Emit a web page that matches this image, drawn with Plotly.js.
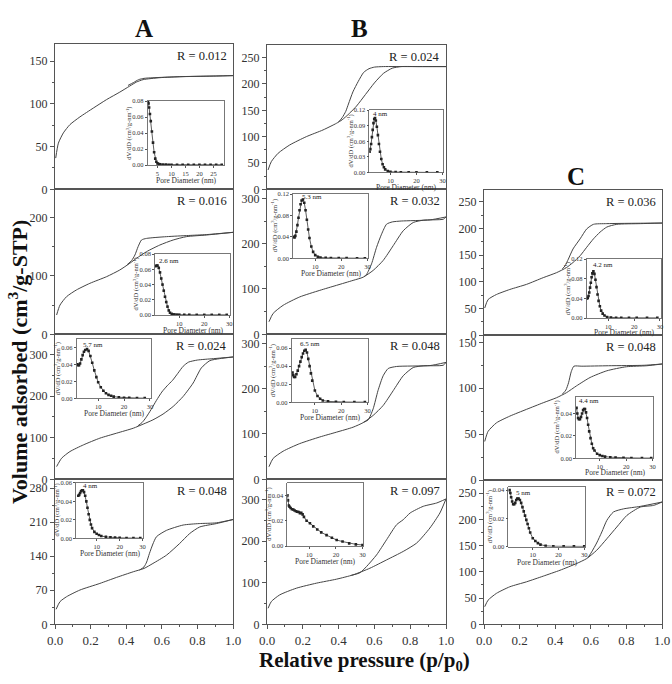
<!DOCTYPE html>
<html><head><meta charset="utf-8">
<script src="https://cdn.plot.ly/plotly-3.0.1.min.js"></script>
<style>html,body{margin:0;padding:0;background:#fff}#chart{width:672px;height:684px}</style>
</head><body><div id="chart"></div>
<script>
// ---------- Isotherm data (relative pressure, volume adsorbed) ----------
const A1_adsX=[0.004,0.019,0.047,0.084,0.14,0.215,0.29,0.364,0.42,0.458,0.495,0.589,0.72,0.907,1.0];
const A1_adsY=[36.5,54,66,75.7,84.7,95,105,113.7,120.8,125.5,128.3,130.6,131.8,132.5,133];
const A1_desX=[1.0,0.85,0.7,0.55,0.5,0.47,0.44,0.41];
const A1_desY=[133,132.4,131.8,130.5,129.8,128.3,124.8,121.5];

const A2_adsX=[0.009,0.028,0.065,0.12,0.196,0.29,0.364,0.42,0.458,0.514,0.589,0.664,0.738,0.85,1.0];
const A2_adsY=[33,50,64.4,75.8,87.2,98.6,110,121.4,130,141.3,152.7,161.3,167,169.8,174.4];
const A2_desX=[1.0,0.85,0.75,0.626,0.514,0.486,0.467,0.449,0.43,0.405];
const A2_desY=[174.4,170.5,169,167,164,161.3,150,135.6,126,119];

const A3_adsX=[0.009,0.037,0.084,0.16,0.252,0.346,0.44,0.495,0.55,0.607,0.664,0.72,0.776,0.822,0.87,0.925,1.0];
const A3_adsY=[30.6,50.7,66.8,82.9,99,111,123,132.7,143,157,175.4,199.5,231.7,268,285.6,290.4,294.4];
const A3_desX=[1.0,0.89,0.8,0.75,0.72,0.69,0.66,0.63,0.6,0.57,0.54,0.51,0.49,0.465];
const A3_desY=[294.4,290.4,287,282,272,255,238,225,210,190,168,148,137,128.5];

const A4_adsX=[0.006,0.028,0.065,0.14,0.252,0.346,0.44,0.5,0.55,0.626,0.7,0.757,0.813,0.907,1.0];
const A4_adsY=[30.8,46.5,56.7,70.4,84,96.4,108,114.8,125,142,166,186.6,200,207,215.3];
const A4_desX=[1.0,0.906,0.81,0.72,0.626,0.57,0.55,0.53,0.515,0.5,0.475];
const A4_desY=[215.3,208.5,207,204,193,180,165,145,128,118,111.5];

const B1_adsX=[0.006,0.024,0.062,0.127,0.22,0.313,0.388,0.42,0.46,0.5,0.55,0.6,0.65,0.7,0.75,0.85,1.0];
const B1_adsY=[36.7,52.5,68.4,84.2,100,112.7,125.3,132,144,158,180,202,220,230,233,233,233];
const B1_desX=[1.0,0.8,0.65,0.6,0.57,0.54,0.51,0.48,0.455,0.44,0.42,0.4];
const B1_desY=[233,233,233,232,229,222,205,185,162,148,136,128];

const B2_adsX=[0.011,0.034,0.09,0.183,0.295,0.388,0.481,0.537,0.593,0.649,0.705,0.761,0.817,0.873,0.985,1.0];
const B2_adsY=[27.7,46,64,82.5,97,108,119,126,141,163,195.6,228.5,246.7,251.8,254,259];
const B2_desX=[1.0,0.91,0.75,0.7,0.668,0.64,0.612,0.584,0.556,0.545];
const B2_desY=[259,252.5,250,248,243,221,192,155.5,132,128.5];

const B3_adsX=[0.011,0.034,0.09,0.183,0.295,0.388,0.481,0.537,0.593,0.649,0.705,0.761,0.817,0.873,0.985,1.0];
const B3_adsY=[27.7,46,62,78.8,93.4,104,115,125,141,163,195.6,228.5,246.7,250.4,251.8,258];
const B3_desX=[1.0,0.91,0.724,0.677,0.649,0.62,0.593,0.565,0.54];
const B3_desY=[258,251,249,244.5,228.5,195.6,155.5,131,126];

const B4_adsX=[0.006,0.024,0.071,0.164,0.276,0.388,0.481,0.575,0.668,0.761,0.836,0.91,0.966,1.0];
const B4_adsY=[38.6,54.7,70.8,86.9,99,108.6,119,135,155,175.4,195.5,231.7,268,301.7];
const B4_desX=[1.0,0.948,0.873,0.8,0.761,0.724,0.668,0.612,0.556,0.519,0.47];
const B4_desY=[301.7,292,284,268,251.8,239.7,203.5,167,139,124,117.7];

const C1_adsX=[0.004,0.023,0.07,0.145,0.239,0.333,0.408,0.464,0.5,0.54,0.577,0.615,0.652,0.69,0.746,0.878,1.0];
const C1_adsY=[50.6,66.5,76,85.4,95,107.6,117,126.6,136,148.7,164.6,180.4,193,202.5,207.6,208.9,210];
const C1_desX=[1.0,0.69,0.615,0.577,0.54,0.5,0.474,0.455,0.44];
const C1_desY=[210,208.9,207.6,199,180.4,161.4,142.4,129.7,124];

const C2_adsX=[0.004,0.023,0.07,0.145,0.239,0.333,0.408,0.464,0.52,0.596,0.69,0.8,0.915,1.0];
const C2_adsY=[42,53,62.3,69.6,77,84.2,89.7,95.2,102.6,111.7,119,123.4,124.5,126.4];
const C2_desX=[1.0,0.9,0.7,0.55,0.505,0.49,0.475,0.46,0.44];
const C2_desY=[126.4,125,124.5,124,124,118,106,98,93.5];

const C3_adsX=[0.004,0.023,0.07,0.145,0.239,0.333,0.427,0.52,0.577,0.633,0.69,0.746,0.803,0.878,0.953,1.0];
const C3_adsY=[33.5,46,59,71.5,81,91.8,103,115.8,125.3,141,163,185.4,207.6,223.4,226.6,233];
const C3_desX=[1.0,0.878,0.784,0.727,0.69,0.662,0.633,0.605,0.585];
const C3_desY=[233,224.7,220,214,198,176,155,138,127.5];

// ---------- Pore size distribution insets (pore diameter nm, dV/dD) ----------
const A1_psdX=[1.6,1.8,2.0,2.3,2.6,3.0,3.4,3.8,4.2,4.6,5.0,5.5,6,7,8,9,10,12,14,16,18,20,22,24,26,28];
const A1_psdY=[0.079,0.077,0.072,0.064,0.055,0.042,0.028,0.016,0.008,0.004,0.002,0.0012,0.0008,0.0006,0.0005,0.0004,0.0004,0.0003,0.0003,0.0003,0.0003,0.0003,0.0003,0.0003,0.0003,0.0003];
const A2_psdX=[0.5,0.9,1.3,1.8,2.3,2.8,3.3,3.8,4.3,4.8,5.3,5.8,6.3,7,8,9,10,12,14,17,20,23,26,29];
const A2_psdY=[0.064,0.065,0.065,0.062,0.056,0.048,0.040,0.032,0.024,0.017,0.011,0.006,0.003,0.0015,0.0008,0.0005,0.0004,0.0003,0.0003,0.0002,0.0002,0.0002,0.0002,0.0002];
const A3_psdX=[2.0,2.3,2.6,3.0,3.5,4.0,4.5,5.0,5.7,6.3,7,7.7,8.5,9.3,10,11,12,13,14,15,16,18,20,22,25,28];
const A3_psdY=[0.040,0.039,0.039,0.041,0.046,0.051,0.055,0.057,0.058,0.056,0.050,0.042,0.033,0.025,0.019,0.013,0.009,0.006,0.004,0.003,0.002,0.0012,0.0007,0.0005,0.0003,0.0002];
const A4_psdX=[2.0,2.4,2.8,3.2,3.6,4.0,4.5,5.0,5.5,6,6.5,7,7.5,8,9,10,11,12,14,16,18,20,23,26,29];
const A4_psdY=[0.046,0.047,0.049,0.051,0.052,0.052,0.050,0.046,0.040,0.033,0.026,0.020,0.015,0.011,0.007,0.005,0.0035,0.0025,0.0015,0.001,0.0007,0.0005,0.0003,0.0002,0.0002];
const B1_psdX=[2.0,2.3,2.6,2.9,3.2,3.5,3.8,4.1,4.4,4.8,5.2,5.6,6.0,6.5,7,7.5,8,9,10,12,14,17,20,24,28];
const B1_psdY=[0.040,0.045,0.055,0.068,0.082,0.095,0.103,0.105,0.100,0.088,0.072,0.055,0.040,0.026,0.016,0.010,0.006,0.003,0.0015,0.0008,0.0005,0.0004,0.0003,0.0002,0.0002];
const B2_psdX=[1.8,2.1,2.4,2.8,3.2,3.6,4.0,4.4,4.8,5.3,5.8,6.3,6.8,7.3,7.8,8.5,9.2,10,11,12,14,16,19,22,26,29];
const B2_psdY=[0.040,0.039,0.042,0.050,0.062,0.076,0.090,0.101,0.108,0.110,0.104,0.090,0.072,0.054,0.038,0.022,0.012,0.006,0.003,0.0015,0.0008,0.0005,0.0004,0.0003,0.0002,0.0002];
const B3_psdX=[1.5,1.8,2.1,2.5,3,3.5,4,4.5,5,5.5,6,6.5,7,7.5,8,8.5,9,10,11,12,13,15,18,21,25,29];
const B3_psdY=[0.033,0.030,0.028,0.028,0.031,0.035,0.040,0.045,0.050,0.054,0.057,0.058,0.055,0.048,0.040,0.032,0.024,0.013,0.007,0.004,0.002,0.001,0.0005,0.0003,0.0002,0.0002];
const B4_psdX=[1.8,2.0,2.3,2.6,3,3.5,4,4.5,5,5.5,6,6.5,7,7.5,8,9,10.25,11.5,13,14.5,16.5,18.5,20.3,22.5,25,27.5,30];
const B4_psdY=[0.040,0.036,0.032,0.031,0.030,0.029,0.0288,0.028,0.0275,0.027,0.0268,0.026,0.0262,0.025,0.023,0.020,0.018,0.0155,0.013,0.0108,0.0086,0.0065,0.0047,0.0035,0.0021,0.0013,0.0008];
const C1_psdX=[1.7,2.0,2.3,2.6,2.9,3.2,3.5,3.8,4.2,4.6,5.0,5.4,5.8,6.2,6.7,7.2,7.8,8.5,9.5,11,13,15,18,21,25,29];
const C1_psdY=[0.040,0.041,0.045,0.052,0.062,0.072,0.083,0.091,0.095,0.090,0.078,0.063,0.048,0.035,0.024,0.015,0.009,0.005,0.002,0.001,0.0006,0.0004,0.0003,0.0002,0.0002,0.0002];
const C2_psdX=[1.2,1.5,1.8,2.1,2.5,2.9,3.3,3.7,4.1,4.4,4.8,5.2,5.6,6,6.5,7,7.5,8,9,10,11,12,14,16,19,22,26,29.5];
const C2_psdY=[0.045,0.040,0.036,0.035,0.035,0.037,0.040,0.043,0.044,0.044,0.041,0.036,0.030,0.024,0.018,0.013,0.009,0.007,0.004,0.0028,0.002,0.0015,0.001,0.0007,0.0005,0.0003,0.0002,0.0002];
const C3_psdX=[1.0,1.3,1.6,2.0,2.4,2.8,3.2,3.6,4.0,4.5,5.0,5.5,6,6.5,7,7.5,8,8.5,9,10,11,12,13,15,18,22,26,30];
const C3_psdY=[0.040,0.038,0.035,0.032,0.030,0.030,0.031,0.033,0.034,0.034,0.033,0.031,0.028,0.025,0.022,0.019,0.016,0.013,0.010,0.006,0.004,0.0025,0.0015,0.0006,0.0003,0.0002,0.0002,0.0002];

// ---------- Labels ----------
const PANEL_IDS=['A1','A2','A3','A4','B1','B2','B3','B4','C1','C2','C3'];
const R_LABELS=['R = 0.012','R = 0.016','R = 0.024','R = 0.048','R = 0.024','R = 0.032','R = 0.048','R = 0.097','R = 0.036','R = 0.048','R = 0.072'];
const PEAK_LABELS=['','2.6 nm','5.7 nm','4 nm','4 nm','5.3 nm','6.5 nm','','4.2 nm','4.4 nm','5 nm'];
const COLUMN_LABELS=['A','B','C'];
const X_TITLE='Relative pressure (p/p<sub>0</sub>)';
const Y_TITLE='Volume adsorbed (cm<sup>3</sup>/g-STP)';
const INSET_X_TITLE='Pore Diameter (nm)';
const INSET_Y_TITLE='dV/dD (cm<sup>3</sup>/g-nm<sup>-1</sup>)';

const DATA={
 A1:[A1_adsX,A1_adsY,A1_desX,A1_desY,A1_psdX,A1_psdY],
 A2:[A2_adsX,A2_adsY,A2_desX,A2_desY,A2_psdX,A2_psdY],
 A3:[A3_adsX,A3_adsY,A3_desX,A3_desY,A3_psdX,A3_psdY],
 A4:[A4_adsX,A4_adsY,A4_desX,A4_desY,A4_psdX,A4_psdY],
 B1:[B1_adsX,B1_adsY,B1_desX,B1_desY,B1_psdX,B1_psdY],
 B2:[B2_adsX,B2_adsY,B2_desX,B2_desY,B2_psdX,B2_psdY],
 B3:[B3_adsX,B3_adsY,B3_desX,B3_desY,B3_psdX,B3_psdY],
 B4:[B4_adsX,B4_adsY,B4_desX,B4_desY,B4_psdX,B4_psdY],
 C1:[C1_adsX,C1_adsY,C1_desX,C1_desY,C1_psdX,C1_psdY],
 C2:[C2_adsX,C2_adsY,C2_desX,C2_desY,C2_psdX,C2_psdY],
 C3:[C3_adsX,C3_adsY,C3_desX,C3_desY,C3_psdX,C3_psdY]
};

// ---------- Geometry (pixels) ----------
const W=672,H=684;
const GEO={
 A1:{box:[55,233,44,189.3],yr:[0,170],dt:50,ins:[147.7,224,101,165],ixr:[1.5,28.8],iyr:[0,0.0802],idx:5,idy:0.02,pk:null,bottom:false,ts:-10},
 A2:{box:[55,233,189.3,334.3],yr:[0,248],dt:100,ins:[155,230,254,315],ixr:[0.3,30.3],iyr:[0,0.0802],idx:10,idy:0.02,pk:[1.0,0.071],bottom:false,ts:-10},
 A3:{box:[55,233,334.3,479.3],yr:[0,349],dt:100,ins:[76.7,150.7,339,398.3],ixr:[1.7,30.3],iyr:[0,0.07],idx:10,idy:0.02,pk:[3.4,0.063],bottom:false,ts:-10},
 A4:{box:[55,233,479.3,624.3],yr:[0,298],dt:70,ins:[76,143.3,482.7,538.3],ixr:[1,30.3],iyr:[0,0.0602],idx:10,idy:0.02,pk:[3.0,0.057],bottom:true,ts:-10},
 B1:{box:[267,446,45,189.3],yr:[0,274],dt:50,ins:[369.3,443.3,110,172.5],ixr:[1.9,30.3],iyr:[0,0.1203],idx:10,idy:0.03,pk:[2.5,0.113],bottom:false,ts:-9},
 B2:{box:[267,446,189.3,334.3],yr:[0,320],dt:100,ins:[293,368.3,194,258.3],ixr:[1.5,30.3],iyr:[0,0.1203],idx:10,idy:0.04,pk:[4.0,0.114],bottom:false,ts:-10},
 B3:{box:[267,446,334.3,479.3],yr:[0,320],dt:100,ins:[291.7,368.3,339,402.3],ixr:[1.2,30.3],iyr:[0,0.07],idx:10,idy:0.02,pk:[3.6,0.065],bottom:false,ts:-10},
 B4:{box:[267,446,479.3,624.3],yr:[0,349],dt:100,ins:[287.3,363.3,482.7,546],ixr:[1.75,30.3],iyr:[0,0.05],idx:10,idy:0.02,pk:null,bottom:true,ts:-10},
 C1:{box:[484,662,190,335],yr:[0,272],dt:50,ins:[586.7,660.7,259,318],ixr:[1.6,30.3],iyr:[0,0.1203],idx:10,idy:0.04,pk:[3.4,0.109],bottom:false,ts:-9},
 C2:{box:[484,662,335,480],yr:[0,158],dt:50,ins:[576,653.3,396.7,458.3],ixr:[1,30.3],iyr:[0,0.055],idx:10,idy:0.02,pk:[1.4,0.051],bottom:false,ts:-9},
 C3:{box:[484,662,480,624.3],yr:[0,275],dt:50,ins:[508.3,585,487.3,546.7],ixr:[0.5,30.3],iyr:[0,0.042],idx:10,idy:0.02,pk:[2.6,0.038],bottom:true,ts:-10}
};

const FONT='Liberation Serif, Times New Roman, serif';
const LINE='#555';
function dx(a,b){return [a/W,b/W];}
function dy(t,b){return [1-b/H,1-t/H];}
function ak(n,ax){return n===1?ax+'axis':ax+'axis'+n;}
function ref(n,ax){return n===1?ax:ax+n;}

const traces=[];
const layout={width:W,height:H,margin:{l:0,r:0,t:0,b:0},paper_bgcolor:'#fff',plot_bgcolor:'#fff',
  showlegend:false,font:{family:FONT,color:'#222'},annotations:[],shapes:[]};

PANEL_IDS.forEach((id,i)=>{
  const g=GEO[id], d=DATA[id];
  const n=i+1, m=i+12;
  layout[ak(n,'x')]={domain:dx(g.box[0],g.box[1]),anchor:ref(n,'y'),range:[0,1],showgrid:false,zeroline:false,
    showline:true,linecolor:LINE,linewidth:1,mirror:true,
    ticks:g.bottom?'outside':'',ticklen:4,tickcolor:LINE,dtick:0.2,tick0:0,tickformat:'.1f',
    minor:g.bottom?{ticks:'outside',ticklen:2,dtick:0.1,tickcolor:LINE}:{ticks:''},
    showticklabels:g.bottom,tickfont:{family:FONT,size:13,color:'#333'},automargin:false};
  layout[ak(n,'y')]={domain:dy(g.box[2],g.box[3]),anchor:ref(n,'x'),range:g.yr,showgrid:false,zeroline:false,
    showline:true,linecolor:LINE,linewidth:1,mirror:true,
    ticks:'outside',ticklen:4,tickcolor:LINE,dtick:g.dt,tick0:0,
    minor:{ticks:'outside',ticklen:2,dtick:g.dt/2,tickcolor:LINE},
    tickfont:{family:FONT,size:12,color:'#333'},automargin:false};
  traces.push({x:d[0],y:d[1],xaxis:ref(n,'x'),yaxis:ref(n,'y'),type:'scatter',mode:'lines',
    line:{color:'#444',width:1,shape:'spline',smoothing:0.6},hoverinfo:'skip'});
  traces.push({x:d[2],y:d[3],xaxis:ref(n,'x'),yaxis:ref(n,'y'),type:'scatter',mode:'lines',
    line:{color:'#444',width:1,shape:'spline',smoothing:0.6},hoverinfo:'skip'});
  layout.annotations.push({xref:ref(n,'x')+' domain',yref:ref(n,'y')+' domain',x:1,y:1,xanchor:'right',yanchor:'top',
    xshift:-4,yshift:-3,text:R_LABELS[i],showarrow:false,font:{family:FONT,size:12.5,color:'#222'}});
  layout[ak(m,'x')]={domain:dx(g.ins[0],g.ins[1]),anchor:ref(m,'y'),range:g.ixr,showgrid:false,zeroline:false,
    showline:true,linecolor:LINE,linewidth:0.8,mirror:true,ticks:'outside',ticklen:2,tickcolor:LINE,
    dtick:g.idx,tick0:0,tickfont:{family:FONT,size:6.5,color:'#333'},automargin:false};
  layout[ak(m,'y')]={domain:dy(g.ins[2],g.ins[3]),anchor:ref(m,'x'),range:g.iyr,showgrid:false,zeroline:false,
    showline:true,linecolor:LINE,linewidth:0.8,mirror:true,ticks:'outside',ticklen:2,tickcolor:LINE,
    dtick:g.idy,tick0:0,tickformat:'.2f',tickfont:{family:FONT,size:6.5,color:'#333'},automargin:false};
  traces.push({x:d[4],y:d[5],xaxis:ref(m,'x'),yaxis:ref(m,'y'),type:'scatter',mode:'lines+markers',
    line:{color:'#333',width:0.8},marker:{symbol:'square',size:2.6,color:'#222'},hoverinfo:'skip'});
  layout.annotations.push({xref:ref(m,'x')+' domain',yref:ref(m,'y')+' domain',x:0.5,y:0,yanchor:'top',yshift:g.ts,
    text:INSET_X_TITLE,showarrow:false,borderpad:0,font:{family:FONT,size:7.5,color:'#333'}});
  layout.annotations.push({xref:ref(m,'x')+' domain',yref:ref(m,'y')+' domain',x:0,y:0.5,xanchor:'center',xshift:-19,
    textangle:-90,text:INSET_Y_TITLE,showarrow:false,font:{family:FONT,size:6.5,color:'#333'}});
  if(g.pk && PEAK_LABELS[i]){
    layout.annotations.push({xref:ref(m,'x'),yref:ref(m,'y'),x:g.pk[0],y:g.pk[1],xanchor:'left',yanchor:'middle',
      text:PEAK_LABELS[i],showarrow:false,font:{family:FONT,size:7,color:'#222'}});
  }
});

const colPos=[[144,28],[359,28],[576,176]];
COLUMN_LABELS.forEach((c,k)=>{
  layout.annotations.push({xref:'paper',yref:'paper',x:colPos[k][0]/W,y:1-colPos[k][1]/H,xanchor:'center',yanchor:'middle',
    text:'<b>'+c+'</b>',showarrow:false,font:{family:FONT,size:25,color:'#111'}});
});
layout.annotations.push({xref:'paper',yref:'paper',x:18/W,y:1-362/H,xanchor:'center',yanchor:'middle',textangle:-90,
  text:'<b>'+Y_TITLE+'</b>',showarrow:false,font:{family:FONT,size:22,color:'#111'}});
layout.annotations.push({xref:'paper',yref:'paper',x:364/W,y:1-661/H,xanchor:'center',yanchor:'middle',
  text:'<b>'+X_TITLE+'</b>',showarrow:false,font:{family:FONT,size:21,color:'#111'}});

Plotly.newPlot('chart',traces,layout,{displayModeBar:false,staticPlot:true});
</script>
</body></html>
